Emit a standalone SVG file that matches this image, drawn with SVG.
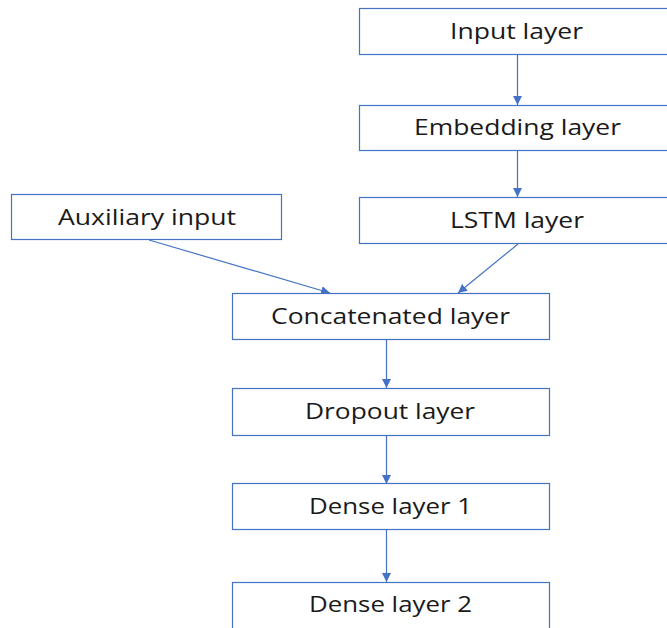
<svg xmlns="http://www.w3.org/2000/svg" width="667" height="628" viewBox="0 0 667 628">
<style>
.box{fill:#fff;stroke:#4472C4;stroke-width:1.2}
.lbl{font-family:"Open Sans","Liberation Sans",sans-serif;font-size:22px;fill:#1a1a1a;text-anchor:middle}
.edge{stroke:#4472C4;stroke-width:1.2;fill:none;marker-end:url(#ah)}
</style>
<defs>
<marker id="ah" viewBox="0 0 10 10" refX="10" refY="5" markerWidth="9" markerHeight="9" markerUnits="userSpaceOnUse" orient="auto">
<path d="M0,0 L10,5 L0,10 z" fill="#4472C4"/>
</marker>
</defs>
<rect width="667" height="628" fill="#fff"/>
<g id="connectors">
<line class="edge" x1="517.5" y1="54" x2="517.5" y2="105"/>
<line class="edge" x1="517.5" y1="150" x2="517.5" y2="197"/>
<line class="edge" x1="149" y1="240" x2="330" y2="293"/>
<line class="edge" x1="518" y1="244" x2="458" y2="293"/>
<line class="edge" x1="386.5" y1="339" x2="386.5" y2="388"/>
<line class="edge" x1="386.5" y1="436" x2="386.5" y2="484"/>
<line class="edge" x1="386.5" y1="530" x2="386.5" y2="582"/>
</g>
<g id="input"><rect class="box" x="359.5" y="8.5" width="317" height="46"/><text class="lbl" x="516.5" y="39" textLength="133" lengthAdjust="spacingAndGlyphs">Input layer</text></g>
<g id="embedding"><rect class="box" x="359.5" y="105.5" width="317" height="45"/><text class="lbl" x="517.5" y="135" textLength="207" lengthAdjust="spacingAndGlyphs">Embedding layer</text></g>
<g id="lstm"><rect class="box" x="359.5" y="197.5" width="317" height="46"/><text class="lbl" x="517" y="228" textLength="134" lengthAdjust="spacingAndGlyphs">LSTM layer</text></g>
<g id="auxiliary"><rect class="box" x="11.5" y="194.5" width="270" height="45"/><text class="lbl" x="147" y="225" textLength="178" lengthAdjust="spacingAndGlyphs">Auxiliary input</text></g>
<g id="concatenated"><rect class="box" x="232.5" y="293.5" width="317" height="46"/><text class="lbl" x="390.5" y="324" textLength="239" lengthAdjust="spacingAndGlyphs">Concatenated layer</text></g>
<g id="dropout"><rect class="box" x="232.5" y="388.5" width="317" height="47"/><text class="lbl" x="390" y="419" textLength="170" lengthAdjust="spacingAndGlyphs">Dropout layer</text></g>
<g id="dense1"><rect class="box" x="232.5" y="483.5" width="317" height="46"/><text class="lbl" x="390.5" y="514" textLength="163" lengthAdjust="spacingAndGlyphs">Dense layer 1</text></g>
<g id="dense2"><rect class="box" x="232.5" y="582.5" width="317" height="50"/><text class="lbl" x="390.5" y="612" textLength="163" lengthAdjust="spacingAndGlyphs">Dense layer 2</text></g>
</svg>
